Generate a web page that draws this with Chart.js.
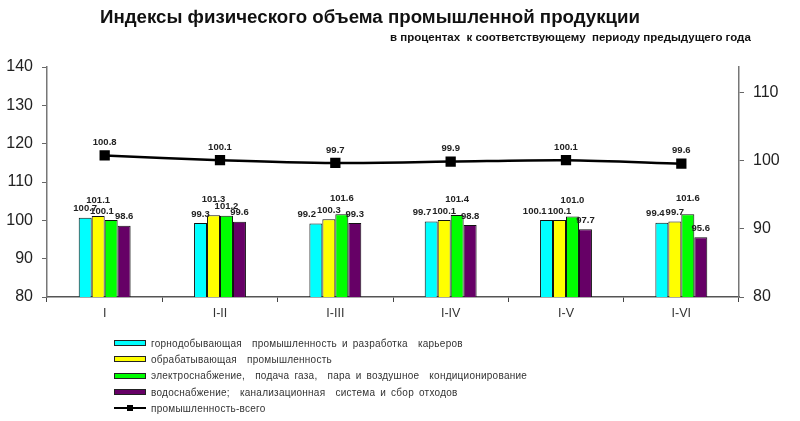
<!DOCTYPE html>
<html lang="ru">
<head>
<meta charset="UTF-8">
<title>Индексы физического объема промышленной продукции</title>
<script src="https://cdn.jsdelivr.net/npm/chart.js"></script>
<style>
  html, body { margin: 0; padding: 0; background: #fff; }
  .wrap { position: relative; width: 800px; height: 421px; font-family: "Liberation Sans", Arial, sans-serif; }
  canvas { position: absolute; left: 0; top: 0; }
  .title { position: absolute; left: 100px; top: 6px; font-size: 18.7px; font-weight: bold; color: #111; white-space: nowrap; }
  .subtitle { position: absolute; left: 390px; top: 31px; font-size: 11.5px; font-weight: bold; color: #111; white-space: pre; }
  .legend { position: absolute; left: 114px; top: 335px; font-size: 10px; color: #333; letter-spacing: 0.25px; }
  .legend .row { display: flex; align-items: center; height: 16.3px; white-space: pre; word-spacing: 2px; }
  .legend .sym { width: 30px; height: 4px; border: 1px solid #222; margin-right: 5px; box-sizing: content-box; }
  .legend .lsym { position: relative; width: 32px; height: 2px; background: #000; margin-right: 5px; }
  .legend .lsym span { position: absolute; left: 13px; top: -2px; width: 6px; height: 6px; background: #000; }
</style>
</head>
<body>
<div class="wrap">
  <canvas id="chart" width="800" height="421"></canvas>
  <div class="title">Индексы физического объема промышленной продукции</div>
  <div class="subtitle">в процентах  к соответствующему  периоду предыдущего года</div>
  <div class="legend" id="legend"></div>
</div>

<script>
// --- данные ---
const periods = ['I', 'I-II', 'I-III', 'I-IV', 'I-V', 'I-VI'];
const mining = [100.7, 99.3, 99.2, 99.7, 100.1, 99.4];
const manufacturing = [101.1, 101.3, 100.3, 100.1, 100.1, 99.7];
const electricity = [100.1, 101.2, 101.6, 101.4, 101.0, 101.6];
const water = [98.6, 99.6, 99.3, 98.8, 97.7, 95.6];
const industryTotal = [100.8, 100.1, 99.7, 99.9, 100.1, 99.6];

const barNames = [
  'горнодобывающая  промышленность и разработка  карьеров',
  'обрабатывающая  промышленность',
  'электроснабжение,  подача газа,  пара и воздушное  кондиционирование',
  'водоснабжение;  канализационная  система и сбор отходов'
];
const lineName = 'промышленность-всего';
const barColors = ['#00FFFF', '#FFFF00', '#00FF00', '#660066'];

const fmt = v => v.toFixed(1);

// подписи значений над столбцами и точками
const valueLabels = {
  id: 'valueLabels',
  afterDatasetsDraw(chart) {
    const ctx = chart.ctx;
    ctx.save();
    ctx.font = 'bold 9.5px "Liberation Sans", Arial, sans-serif';
    ctx.fillStyle = '#222';
    ctx.textAlign = 'center';
    ctx.textBaseline = 'middle';
    for (let i = 0; i < periods.length; i++) {
      const vals = [0, 1, 2, 3].map(d => chart.data.datasets[d].data[i]);
      const top = Math.max(...vals);
      const labs = vals.map((v, d) => {
        const bar = chart.getDatasetMeta(d).data[i];
        let y = bar.y - 9;
        // самую высокую подпись в группе поднимаем
        if (v === top && vals.indexOf(top) === d) y -= 7;
        return { text: fmt(v), x: bar.x, y: y, w: ctx.measureText(fmt(v)).width };
      });
      // если соседние подписи на одной высоте — сдвигаем левую влево
      for (let d = 0; d < 3; d++) {
        const a = labs[d], b = labs[d + 1];
        if (Math.abs(a.y - b.y) < 6) {
          const over = (a.w + b.w) / 2 - (b.x - a.x) + 1;
          if (over > 0) a.x -= over;
        }
      }
      labs.forEach(l => ctx.fillText(l.text, l.x, l.y));
      const pt = chart.getDatasetMeta(4).data[i];
      ctx.fillText(fmt(industryTotal[i]), pt.x, pt.y - 13);
    }
    ctx.restore();
  }
};

const datasets = [mining, manufacturing, electricity, water].map((vals, k) => ({
  type: 'bar',
  label: barNames[k],
  data: vals,
  backgroundColor: barColors[k],
  borderColor: '#111',
  borderWidth: 1,
  yAxisID: 'y',
  categoryPercentage: 0.45,
  barPercentage: 1,
  order: 2
}));
datasets.push({
  type: 'line',
  label: lineName,
  data: industryTotal,
  borderColor: '#000',
  backgroundColor: '#000',
  borderWidth: 2.5,
  pointStyle: 'rect',
  pointRadius: 5.5,
  tension: 0.3,
  yAxisID: 'y1',
  order: 1
});

const tickFont = { family: '"Liberation Sans", Arial, sans-serif', size: 16 };

new Chart(document.getElementById('chart'), {
  type: 'bar',
  data: { labels: periods, datasets: datasets },
  options: {
    responsive: false,
    animation: false,
    layout: { padding: { top: 67, bottom: 94, left: 0, right: 0 } },
    plugins: { legend: { display: false }, tooltip: { enabled: false } },
    scales: {
      x: {
        grid: { display: true, drawOnChartArea: false, offset: true, color: '#444', tickLength: 5 },
        border: { color: '#555', width: 1.5 },
        ticks: { color: '#333', font: { family: tickFont.family, size: 12.5 }, padding: 4 },
        afterFit: s => { s.height = 30; }
      },
      y: {
        position: 'left',
        min: 80, max: 140,
        ticks: { stepSize: 10, color: '#222', font: tickFont, padding: 9 },
        grid: { drawOnChartArea: false, color: '#666', tickLength: 5 },
        border: { color: '#777', width: 1.5 },
        afterFit: s => { s.width = 47; }
      },
      y1: {
        position: 'right',
        min: 80, max: 113.8,
        ticks: { stepSize: 10, color: '#222', font: tickFont, padding: 9 },
        afterBuildTicks: s => { s.ticks = s.ticks.filter(t => t.value % 10 === 0); },
        grid: { drawOnChartArea: false, color: '#666', tickLength: 5 },
        border: { color: '#777', width: 1.5 },
        afterFit: s => { s.width = 61; }
      }
    }
  },
  plugins: [valueLabels]
});

// легенда
const legend = document.getElementById('legend');
barNames.forEach((name, k) => {
  const row = document.createElement('div');
  row.className = 'row';
  const sym = document.createElement('div');
  sym.className = 'sym';
  sym.style.background = barColors[k];
  row.appendChild(sym);
  row.appendChild(document.createTextNode(name));
  legend.appendChild(row);
});
const lrow = document.createElement('div');
lrow.className = 'row';
lrow.innerHTML = '<div class="lsym"><span></span></div>';
lrow.appendChild(document.createTextNode(lineName));
legend.appendChild(lrow);
</script>
</body>
</html>
